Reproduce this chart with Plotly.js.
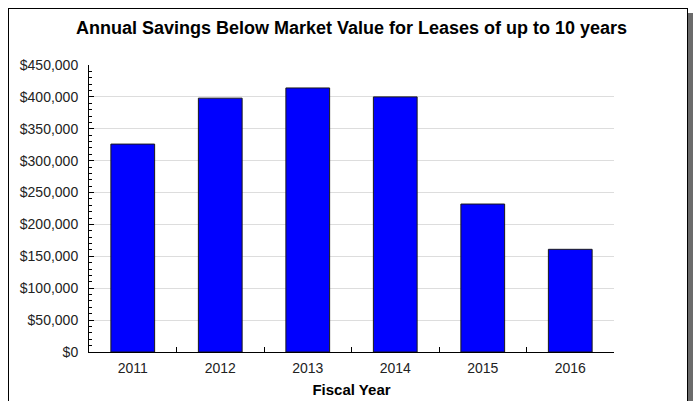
<!DOCTYPE html>
<html>
<head>
<meta charset="utf-8">
<script src="https://cdn.plot.ly/plotly-3.0.1.min.js"></script>
<style>
  html, body { margin: 0; padding: 0; background: #ffffff; }
  #frame { position: absolute; left: 8px; top: 8px; width: 678px; height: 400px;
           border: 1px solid #000; box-shadow: 5px 5px 0 #6b6b6b; background: #fff; }
  #chart { position: absolute; left: 0; top: 0; width: 694px; height: 401px; }
</style>
</head>
<body>
<div id="frame"></div>
<div id="chart"></div>
<script>
const years = ['2011', '2012', '2013', '2014', '2015', '2016'];
const savings = [326000, 398000, 414000, 400000, 232000, 161000];
const chartTitle = 'Annual Savings Below Market Value for Leases of up to 10 years';
const xTitle = 'Fiscal Year';

const trace = {
  type: 'bar',
  x: years,
  y: savings,
  width: 0.5,
  marker: { color: '#0000ff', line: { color: '#1a1a1a', width: 1 } },
  hoverinfo: 'x+y'
};

const layout = {
  width: 694,
  height: 401,
  paper_bgcolor: 'rgba(0,0,0,0)',
  plot_bgcolor: '#ffffff',
  margin: { l: 89, r: 80, t: 65, b: 49 },
  showlegend: false,
  font: { family: 'Liberation Sans, Arial, sans-serif', size: 13, color: '#222' },
  title: {
    text: '<b>' + chartTitle + '</b>',
    font: { family: 'Liberation Sans, Arial, sans-serif', size: 18, color: '#000' },
    x: 0.5, xref: 'paper', xanchor: 'center',
    y: 0.930, yref: 'container', yanchor: 'middle'
  },
  xaxis: {
    type: 'category',
    showline: true, linecolor: '#000', linewidth: 1,
    ticks: 'inside', tickson: 'boundaries', ticklen: 5, tickcolor: '#000',
    showgrid: false, zeroline: false,
    tickfont: { size: 14, color: '#222' },
    ticklabelstandoff: 3,
    title: { text: '<b>' + xTitle + '</b>', font: { size: 15, color: '#000' }, standoff: 9 }
  },
  yaxis: {
    range: [0, 450000],
    dtick: 50000,
    tick0: 0,
    showline: true, linecolor: '#000', linewidth: 1,
    ticks: 'inside', ticklen: 5, tickcolor: '#000',
    tickprefix: '$', tickformat: ',d',
    showgrid: true, gridcolor: '#dddddd', gridwidth: 1,
    zeroline: false,
    tickfont: { size: 14, color: '#222' },
    ticklabelstandoff: 7,
    minor: { dtick: 10000, ticks: 'inside', ticklen: 3, tickcolor: '#000', showgrid: false }
  }
};

Plotly.newPlot('chart', [trace], layout, { displayModeBar: false, staticPlot: true });
</script>
</body>
</html>
